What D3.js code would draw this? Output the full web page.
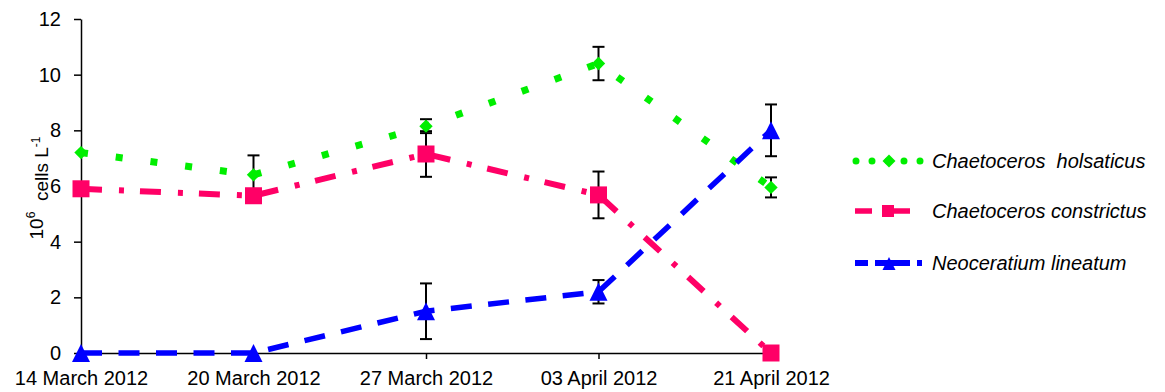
<!DOCTYPE html>
<html>
<head>
<meta charset="utf-8">
<script src="https://cdn.jsdelivr.net/npm/d3@7"></script>
<style>
  body { margin: 0; background: #fff; }
  svg { display: block; font-family: "Liberation Sans", Arial, sans-serif; }
</style>
</head>
<body>
<svg id="chart" width="1165" height="392"></svg>
<script>
// Sampling dates
const dates = ["14 March 2012", "20 March 2012", "27 March 2012", "03 April 2012", "21 April 2012"];
const yTicks = [0, 2, 4, 6, 8, 10, 12];

// Cell densities (10^6 cells per litre) and standard deviations
const holsaticus = [7.2, 6.4, 8.15, 10.4, 5.95];
const holsaticusErr = [0, 0.7, 0.25, 0.6, 0.36];
const constrictus = [5.9, 5.65, 7.15, 5.68, 0];
const constrictusErr = [0, 0, 0.82, 0.84, 0];
const lineatum = [0, 0, 1.5, 2.2, 8.0];
const lineatumErr = [0, 0, 1.0, 0.42, 0.93];

// Custom marker shapes: size = half-width in px
const diamond = { draw(ctx, r) { ctx.moveTo(0, -r); ctx.lineTo(r, 0); ctx.lineTo(0, r); ctx.lineTo(-r, 0); ctx.closePath(); } };
const square = { draw(ctx, r) { ctx.rect(-r, -r, 2 * r, 2 * r); } };
const triangle = { draw(ctx, r) { ctx.moveTo(0, -r); ctx.lineTo(r, r); ctx.lineTo(-r, r); ctx.closePath(); } };

const series = [
  { name: "Chaetoceros  holsaticus", values: holsaticus, err: holsaticusErr, color: "#00ee00", dash: "7,28", width: 7, symbol: diamond, r: 6.7, lr: 6.5 },
  { name: "Chaetoceros constrictus", values: constrictus, err: constrictusErr, color: "#ff0066", dash: "21,17,5,16", width: 6, symbol: square, r: 8.5, lr: 6 },
  { name: "Neoceratium lineatum", values: lineatum, err: lineatumErr, color: "#0000ff", dash: "21,16.5", width: 5.5, symbol: triangle, r: 9, lr: 6.5 }
];

const svg = d3.select("#chart");
const x = d3.scalePoint().domain(dates).range([81, 771]);
const y = d3.scaleLinear().domain([0, 12]).range([353, 19]);

// Axes
svg.append("g")
  .attr("transform", "translate(81,0)")
  .call(d3.axisLeft(y).tickValues(yTicks).tickSize(7).tickPadding(13).tickSizeOuter(0))
  .call(g => g.selectAll("text").attr("font-size", 20).attr("fill", "#000").attr("font-family", "Liberation Sans, Arial, sans-serif"))
  .call(g => g.selectAll("line, path").attr("stroke", "#000").attr("stroke-width", 1.5));

svg.append("g")
  .attr("transform", "translate(0,353)")
  .call(d3.axisBottom(x).tickSize(6).tickPadding(12).tickSizeOuter(0))
  .call(g => g.selectAll("text").attr("font-size", 20).attr("fill", "#000").attr("font-family", "Liberation Sans, Arial, sans-serif"))
  .call(g => g.selectAll("line, path").attr("stroke", "#000").attr("stroke-width", 1.5));

// Y-axis title
const yt = svg.append("text")
  .attr("transform", "translate(43,188) rotate(-90)")
  .attr("text-anchor", "middle")
  .attr("font-size", 19)
  .attr("fill", "#000")
  .attr("xml:space", "preserve")
  .style("white-space", "pre");
yt.append("tspan").text("10");
yt.append("tspan").attr("font-size", 12).attr("dy", "-0.65em").text("6");
yt.append("tspan").attr("dy", "0.65em").text("  cells L");
yt.append("tspan").attr("font-size", 12).attr("dy", "-0.65em").text("-1");

const line = d3.line().x((d, i) => x(dates[i])).y(d => y(d));

// Lines
series.forEach(s => {
  svg.append("path")
    .datum(s.values)
    .attr("d", line)
    .attr("fill", "none")
    .attr("stroke", s.color)
    .attr("stroke-width", s.width)
    .attr("stroke-dasharray", s.dash)
    .attr("stroke-linecap", "butt");
});

// Error bars
series.forEach(s => {
  s.values.forEach((v, i) => {
    if (!s.err[i]) return;
    const cx = x(dates[i]);
    const g = svg.append("g").attr("stroke", "#000").attr("stroke-width", 2);
    g.append("line").attr("x1", cx).attr("x2", cx).attr("y1", y(v + s.err[i])).attr("y2", y(v - s.err[i]));
    [v + s.err[i], v - s.err[i]].forEach(e => {
      g.append("line").attr("x1", cx - 6).attr("x2", cx + 6).attr("y1", y(e)).attr("y2", y(e));
    });
  });
});

// Markers
series.forEach(s => {
  svg.append("g").selectAll("path")
    .data(s.values)
    .join("path")
    .attr("transform", (d, i) => `translate(${x(dates[i])},${y(d)})`)
    .attr("d", d3.symbol().type(s.symbol).size(s.r))
    .attr("fill", s.color);
});

// Legend
const legendY = [161, 211, 263];
const legendStroke = [
  { dash: "0,16", cap: "round", width: 7, offset: -1 },
  { dash: "17,11,27,30", cap: "butt", width: 5.5, offset: 0 },
  { dash: "13,7,35,7,5,30", cap: "butt", width: 6, offset: 0 }
];
series.forEach((s, k) => {
  const st = legendStroke[k];
  const g = svg.append("g").attr("transform", `translate(855,${legendY[k]})`);
  g.append("line")
    .attr("x1", 0).attr("x2", 67).attr("y1", 0).attr("y2", 0)
    .attr("stroke", s.color).attr("stroke-width", st.width)
    .attr("stroke-dasharray", st.dash)
    .attr("stroke-dashoffset", st.offset)
    .attr("stroke-linecap", st.cap);
  g.append("path")
    .attr("transform", `translate(${k === 1 ? 33 : 34},${k === 2 ? 0.5 : 0})`)
    .attr("d", d3.symbol().type(s.symbol).size(s.lr))
    .attr("fill", s.color);
  g.append("text")
    .attr("x", 77).attr("y", 7)
    .attr("font-size", 20).attr("font-style", "italic")
    .attr("fill", "#000")
    .attr("xml:space", "preserve")
    .style("white-space", "pre")
    .text(s.name);
});
</script>
</body>
</html>
